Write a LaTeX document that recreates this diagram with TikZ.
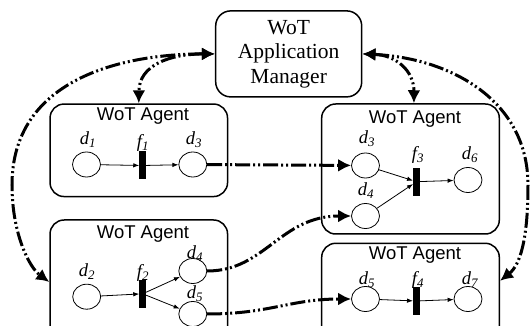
\documentclass[tikz,border=0pt]{standalone}
\usepackage{fontspec}
\setmainfont{Liberation Serif}
\newfontfamily\agfont{Liberation Sans}
\usetikzlibrary{arrows.meta, shapes.geometric}

\begin{document}
\begin{tikzpicture}[x=1pt, y=-1pt,
every edge/.style = {draw=black, line width=0.8pt, -{Latex[length=6pt, width=4.5pt]}},
  plc/.style = {ellipse, draw, line width=0.8pt,
      minimum width=28pt, minimum height=25pt, inner sep=0pt},
  trn/.style = {rectangle, fill=black,
      minimum width=6.5pt, minimum height=28pt, inner sep=0pt},
 agnt/.style args = {#1/#2}{%
      rectangle, draw, line width=1.5pt, rounded corners=14pt,
      minimum width=#1pt, minimum height=#2pt},
  mgr/.style = {rectangle, draw, line width=1.5pt, rounded corners=15pt,
      minimum width=146pt, minimum height=86pt, align=center,
      font=\fontsize{21.5}{24.5}\selectfont},
  ttl/.style = {font=\agfont\fontsize{18.5}{18.5}\selectfont, anchor=base, inner sep=0pt},
  lbl/.style = {font=\fontsize{18.5}{18.5}\selectfont\itshape, anchor=base, inner sep=0pt},
  msg/.style = {line width=3pt, dash pattern=on 15pt off 3pt on 2pt off 3pt on 2pt off 3pt,
      {Latex[length=13pt, width=13pt]}-{Latex[length=13pt, width=13pt]}},
 msgr/.style = {msg, -{Latex[length=13pt, width=13pt]}}
                    ]
\clip (0,0) rectangle (531,326);
\node (M) [mgr] at (288.7,53.9) {WoT\\Application\\Manager};
 %
\node (ag1) [agnt=177.5/92.5] at (138.8,150.3) {};
\node (ag2) [agnt=177.6/130]  at (410.5,169)   {};
\node (ag3) [agnt=177.5/124]  at (138.8,282)   {};
\node (ag4) [agnt=177.6/97]   at (410.5,291.8) {};
\node (ag1t) [ttl] at (143,120.5) {WoT Agent};
\node (ag2t) [ttl] at (415,123.3) {WoT Agent};
\node (ag3t) [ttl] at (143,238.3) {WoT Agent};
\node (ag4t) [ttl] at (415,260)   {WoT Agent};
 %
\node (a1d1) [plc] at ( 86.5,164.5) {};
\node (a1f1) [trn] at (142.7,165.5) {};
\node (a1d3) [plc] at (192.8,164.5) {};
\node (a3d2) [plc] at ( 86.7,296.7) {};
\node (a3f2) [trn] at (142.7,293.8) {};
\node (a3d4) [plc] at (192.8,271)   {};
\node (a3d5) [plc] at (192.8,314)   {};
\node (a2d3) [plc] at (365.5,165.5) {};
\node (a2d4) [plc] at (365.5,216)   {};
\node (a2f3) [trn] at (416.5,181.7) {};
\node (a2d6) [plc] at (468,180)     {};
\node (a4d5) [plc] at (365.5,299)   {};
\node (a4f4) [trn] at (416.5,301)   {};
\node (a4d7) [plc] at (468,299)     {};
 %
\node (a1d1l) [lbl] at ( 88,145)   {d\textsubscript{1}};
\node (a1f1l) [lbl] at (143,148)   {f\textsubscript{1}};
\node (a1d3l) [lbl] at (194,145)   {d\textsubscript{3}};
\node (a3d2l) [lbl] at ( 87,277)   {d\textsubscript{2}};
\node (a3f2l) [lbl] at (143,278)   {f\textsubscript{2}};
\node (a3d4l) [lbl] at (195,259)   {d\textsubscript{4}};
\node (a3d5l) [lbl] at (195,299)   {d\textsubscript{5}};
\node (a2d3l) [lbl] at (367,143.5) {d\textsubscript{3}};
\node (a2d4l) [lbl] at (366,195.5) {d\textsubscript{4}};
\node (a2f3l) [lbl] at (418,160)   {f\textsubscript{3}};
\node (a2d6l) [lbl] at (470,160)   {d\textsubscript{6}};
\node (a4d5l) [lbl] at (367,285)   {d\textsubscript{5}};
\node (a4f4l) [lbl] at (418,285)   {f\textsubscript{4}};
\node (a4d7l) [lbl] at (470,285)   {d\textsubscript{7}};
 %
\path   (a1d1) edge (a1f1)
        (a1f1) edge (a1d3)
        (a3d2) edge (a3f2)
        (a3f2) edge (a3d4)
        (a3f2) edge (a3d5)
        (a2d3) edge (a2f3)
        (a2d4) edge (a2f3)
        (a2f3) edge (a2d6)
        (a4d5) edge (a4f4)
        (a4f4) edge (a4d7);
 %
\draw[msg] (M.west) .. controls (170,54) and (139,65) .. (ag1.north);
\draw[msg] (M.west) .. controls (120,54) and (12,80) .. (12,185)
                    .. controls (12,235) and (30,268) .. (ag3.west);
\draw[msg] (M.east) .. controls (395,55) and (414,70) .. (ag2.87);
\draw[msg] (M.east) .. controls (450,58) and (528,100) .. (528,185)
                    .. controls (528,240) and (520,265) .. (ag4.7.5);
\draw[msgr] (a1d3) -- (a2d3);
\draw[msgr] (a3d4) .. controls (265,271) and (280,216) .. (a2d4);
\draw[msgr] (a3d5) .. controls (270,314) and (290,299) .. (a4d5);
\end{tikzpicture}
\end{document}
